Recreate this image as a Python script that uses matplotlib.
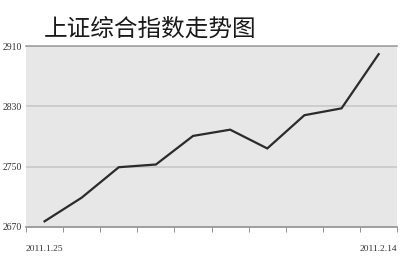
import matplotlib.pyplot as plt
import numpy as np

dates = ["2011.1.25", "1.26", "1.27", "1.28", "1.31", "2.1", "2.9", "2.10", "2.11", "2011.2.14"]
closes = [2677.4, 2708.8, 2749.2, 2752.8, 2790.7, 2799.0, 2774.1, 2818.2, 2827.3, 2899.2]
yticks = [2670, 2750, 2830, 2910]

plt.rcParams['font.family'] = ['Noto Sans CJK SC', 'DejaVu Sans']

fig = plt.figure(figsize=(4, 2.66), dpi=100)
fig.patch.set_facecolor('white')
ax = fig.add_axes([0.065, 0.147, 0.928, 0.68])
ax.set_facecolor('#e7e7e7')

x = np.arange(len(closes))
ax.plot(x, closes, color='#2b2b2b', lw=1.6, solid_joinstyle='miter')

ax.set_xlim(-0.5, len(closes) - 0.5)
ax.set_ylim(yticks[0], yticks[-1])

# grid lines across the plot area
for v in yticks[1:]:
    ax.axhline(v, color='#c8c8c8', lw=1.2, zorder=0.5)

for s in ['left', 'right']:
    ax.spines[s].set_visible(False)
ax.spines['top'].set_color('#a0a0a0')
ax.spines['top'].set_linewidth(1.2)
ax.spines['bottom'].set_color('#909090')
ax.spines['bottom'].set_linewidth(1.2)

ax.set_yticks(yticks)
ax.set_yticklabels([str(v) for v in yticks], fontsize=7, family='Liberation Serif', color='#333333')
ax.tick_params(axis='y', length=0, pad=3)

ax.set_xticks([0, len(closes) - 1])
ax.set_xticklabels([dates[0], dates[-1]], fontsize=6.8, family='Liberation Serif', color='#333333')
ax.set_xticks(np.arange(-0.5, len(closes)), minor=True)
ax.tick_params(axis='x', which='major', length=0, pad=13)
ax.tick_params(axis='x', which='minor', length=3.5, color='#808080', direction='out')

fig.text(0.11, 0.89, "上证综合指数走势图", fontsize=17, weight='medium',
         color='#1a1a1a', va='center', ha='left')

fig.savefig('out.png', dpi=100)
